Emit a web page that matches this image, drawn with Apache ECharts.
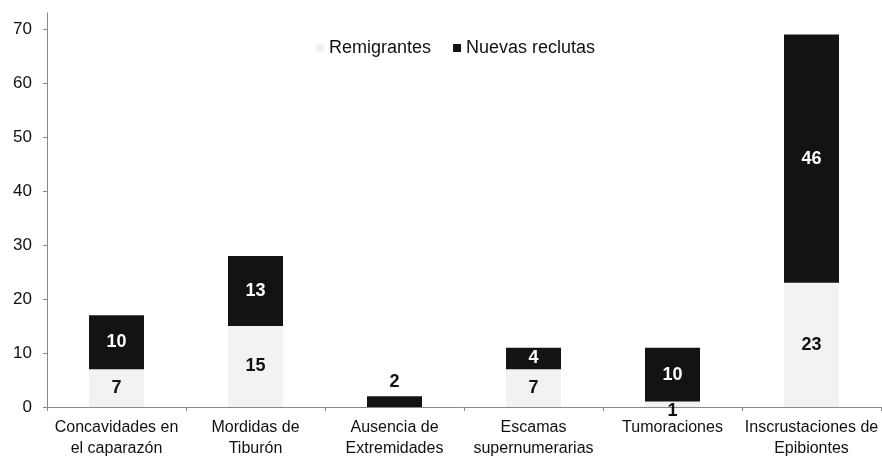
<!DOCTYPE html>
<html>
<head>
<meta charset="utf-8">
<script src="https://cdn.jsdelivr.net/npm/echarts@6/dist/echarts.min.js"></script>
<style>
html, body { margin: 0; padding: 0; background: #fff; }
#chart { width: 882px; height: 460px; }
</style>
</head>
<body>
<div id="chart"></div>
<script>
const categories = [
	'Concavidades en\nel caparazón',
	'Mordidas de\nTiburón',
	'Ausencia de\nExtremidades',
	'Escamas\nsupernumerarias',
	'Tumoraciones',
	'Inscrustaciones de\nEpibiontes'
]
const remigrantes = [7, 15, 0, 7, 1, 23]
const nuevasReclutas = [10, 13, 2, 4, 10, 46]
const yTicks = [0, 10, 20, 30, 40, 50, 60, 70]

const font = 'Liberation Sans, Arial, sans-serif'

const chart = echarts.init(document.getElementById('chart'))

// etiquetas: ocultar ceros, la barra de 1 lleva la etiqueta desplazada hacia abajo
const remData = remigrantes.map((v) => {
	if (v === 0) return { value: v, label: { show: false } }
	if (v === 1) return { value: v, label: { offset: [0, 7] } }
	return v
})
// barras muy bajas: etiqueta arriba
const nuevData = nuevasReclutas.map((v) => {
	if (v <= 2) {
		return { value: v, label: { position: 'top', color: '#111' } }
	}
	return v
})

chart.setOption({
	animation: false,
	legend: {
		top: 34,
		left: 311,
		itemWidth: 8,
		itemHeight: 8,
		itemGap: 22,
		icon: 'rect',
		textStyle: { fontFamily: font, fontSize: 18, color: '#111' },
		data: ['Remigrantes', 'Nuevas reclutas']
	},
	grid: { left: 47, right: 1, top: 13, bottom: 53 },
	xAxis: {
		type: 'category',
		data: categories,
		axisLine: { lineStyle: { color: '#888' } },
		axisTick: { show: true, length: 4, lineStyle: { color: '#888' } },
		axisLabel: {
			interval: 0,
			margin: 10,
			fontFamily: font,
			fontSize: 16,
			lineHeight: 21,
			color: '#111'
		}
	},
	yAxis: {
		type: 'value',
		min: 0,
		max: 73,
		interval: 10,
		splitLine: { show: false },
		axisLine: { show: true, lineStyle: { color: '#888' } },
		axisTick: { show: true, length: 4, customValues: yTicks, lineStyle: { color: '#888' } },
		axisLabel: {
			customValues: yTicks,
			margin: 15,
			fontFamily: font,
			fontSize: 17,
			color: '#111'
		}
	},
	series: [
		{
			name: 'Remigrantes',
			type: 'bar',
			stack: 'total',
			barWidth: 55,
			itemStyle: { color: '#f2f2f2' },
			label: {
				show: true,
				position: 'inside',
				fontFamily: font,
				fontWeight: 'bold',
				fontSize: 18,
				color: '#111'
			},
			data: remData
		},
		{
			name: 'Nuevas reclutas',
			type: 'bar',
			stack: 'total',
			barWidth: 55,
			itemStyle: { color: '#131313' },
			label: {
				show: true,
				position: 'inside',
				fontFamily: font,
				fontWeight: 'bold',
				fontSize: 18,
				color: '#fff'
			},
			data: nuevData
		}
	]
})
</script>
</body>
</html>
